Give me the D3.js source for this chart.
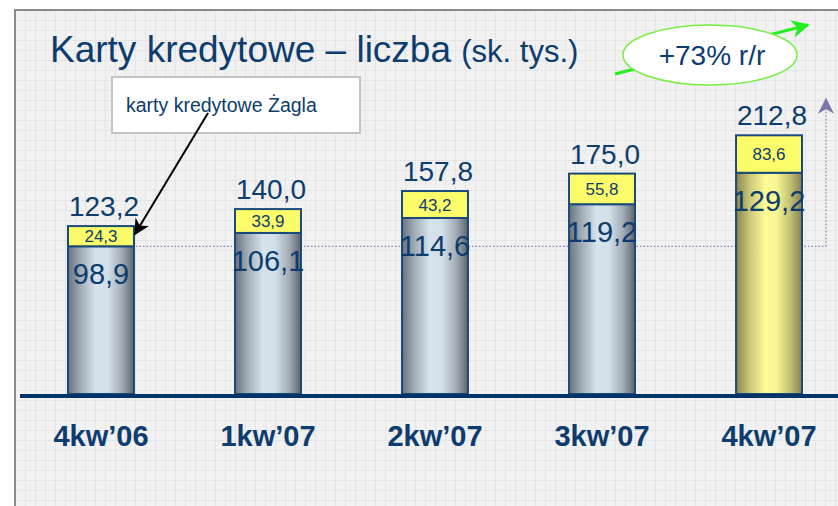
<!DOCTYPE html>
<html>
<head>
<meta charset="utf-8">
<script src="https://cdn.jsdelivr.net/npm/d3@7"></script>
<style>
  body { margin: 0; background: #fff; }
  svg { display: block; }
  text { font-family: "Liberation Sans", Arial, sans-serif; }
</style>
</head>
<body>
<div id="chart"></div>
<script>
// data
const quarters = ["4kw\u201906", "1kw\u201907", "2kw\u201907", "3kw\u201907", "4kw\u201907"];
const totals   = [123.2, 140.0, 157.8, 175.0, 212.8];
const zagla    = [24.3, 33.9, 43.2, 55.8, 83.6];
const own      = [98.9, 106.1, 114.6, 119.2, 129.2];
const fmt = d => d.toFixed(1).replace(".", ",");

const width = 838, height = 506;
const base_y = 394;
const navy = "#0d3c6e";

const svg = d3.select("#chart").append("svg")
    .attr("width", width).attr("height", height);

const defs = svg.append("defs");

// grid paper background
const pat = defs.append("pattern")
    .attr("id", "grid").attr("patternUnits", "userSpaceOnUse")
    .attr("x", 5).attr("y", 0).attr("width", 10).attr("height", 10);
pat.append("rect").attr("width", 10).attr("height", 10).attr("fill", "#f1f1f1");
pat.append("path").attr("d", "M0,0.5H10M0.5,0V10")
    .attr("stroke", "#e5e5e5").attr("stroke-width", 1);

function hGradient(id, stops){
    const g = defs.append("linearGradient").attr("id", id)
        .attr("x1", "0%").attr("x2", "100%").attr("y1", "0%").attr("y2", "0%");
    stops.forEach(s => g.append("stop").attr("offset", s[0]).attr("stop-color", s[1]));
}
hGradient("steel", [["0%", "#6a737d"], ["18%", "#9ea9b4"], ["42%", "#d6e3ed"], ["60%", "#d3e0ea"], ["82%", "#a3acb6"], ["100%", "#5c636c"]]);
hGradient("gold", [["0%", "#878548"], ["20%", "#c8c677"], ["45%", "#fdfd98"], ["62%", "#f6f692"], ["82%", "#c2c074"], ["100%", "#84834c"]]);

function arrowMarker(id, color, size){
    defs.append("marker").attr("id", id)
        .attr("viewBox", "0 0 10 10").attr("refX", 9).attr("refY", 5)
        .attr("markerWidth", size).attr("markerHeight", size)
        .attr("markerUnits", "userSpaceOnUse")
        .attr("orient", "auto")
        .append("path").attr("d", "M0,0L10,5L0,10L3,5Z").attr("fill", color);
}
arrowMarker("arrBlack", "#000", 16);
arrowMarker("arrGreen", "#22ee22", 18);
arrowMarker("arrPurple", "#7a76a8", 16);

// frame
svg.append("rect").attr("x", 14).attr("y", 9)
    .attr("width", width - 14).attr("height", height - 9)
    .attr("fill", "url(#grid)");
svg.append("path").attr("d", `M15,${height}V10H${width}`)
    .attr("fill", "none").attr("stroke", "#8a8a8a").attr("stroke-width", 2);

// scales
const x = d3.scaleBand().domain(quarters).range([68, 802])
    .paddingInner(0.605).paddingOuter(0);
const y = d3.scaleLinear().domain([-42.5, 257.5]).range([base_y, 90]);
const ySeg = d3.scaleSqrt().domain([0, 100]).range([0, 41]);

const rows = quarters.map((q, i) => ({q, total: totals[i], zagla: zagla[i], own: own[i], last: i === quarters.length - 1}));
rows.forEach(d => { d.top = y(d.total); d.split = d.top + ySeg(d.zagla); });

// dotted reference: level of first quarter up to the last
const refY = rows[0].split;
const refX = 826;
svg.append("line")
    .attr("x1", x(quarters[0]) + x.bandwidth() / 2).attr("x2", refX)
    .attr("y1", refY).attr("y2", refY)
    .attr("stroke", "#8784b4").attr("stroke-width", 1.2).attr("stroke-dasharray", "1.5,2");
svg.append("line")
    .attr("x1", refX).attr("x2", refX)
    .attr("y1", refY).attr("y2", rows[4].top - 36)
    .attr("stroke", "#8784b4").attr("stroke-width", 1.2).attr("stroke-dasharray", "1.5,2")
    .attr("marker-end", "url(#arrPurple)");

// bars
const bars = svg.append("g").attr("class", "bars")
    .selectAll("g").data(rows).join("g")
    .attr("transform", d => `translate(${x(d.q)},0)`);

bars.append("rect")
    .attr("y", d => d.split).attr("width", x.bandwidth())
    .attr("height", d => base_y - d.split)
    .attr("fill", d => d.last ? "url(#gold)" : "url(#steel)")
    .attr("stroke", "#1b4a7a").attr("stroke-width", 2);

bars.append("rect")
    .attr("y", d => d.top).attr("width", x.bandwidth())
    .attr("height", d => d.split - d.top)
    .attr("fill", "#ffff55").attr("fill-opacity", 0.85)
    .attr("stroke", "#1b4a7a").attr("stroke-width", 2);

bars.append("text")
    .attr("x", x.bandwidth() / 2).attr("y", d => (d.top + d.split) / 2)
    .attr("dy", "0.36em").attr("text-anchor", "middle")
    .attr("font-size", 17).attr("fill", navy)
    .text(d => fmt(d.zagla));

bars.append("text")
    .attr("x", x.bandwidth() / 2).attr("y", d => d.split + 38)
    .attr("text-anchor", "middle")
    .attr("font-size", 29).attr("fill", navy)
    .text(d => fmt(d.own));

bars.append("text")
    .attr("x", x.bandwidth() / 2 + 3).attr("y", d => d.top - 10)
    .attr("text-anchor", "middle")
    .attr("font-size", 28).attr("fill", navy)
    .text(d => fmt(d.total));

// baseline + category labels
svg.append("line").attr("x1", 20).attr("x2", width)
    .attr("y1", base_y + 2).attr("y2", base_y + 2)
    .attr("stroke", "#003366").attr("stroke-width", 4);

svg.append("g").selectAll("text").data(quarters).join("text")
    .attr("x", d => x(d) + x.bandwidth() / 2)
    .attr("y", 446)
    .attr("text-anchor", "middle")
    .attr("font-size", 29).attr("font-weight", "bold")
    .style("font-family", "'Liberation Sans Narrow', 'Arial Narrow', sans-serif")
    .attr("fill", navy)
    .text(d => d);

// title
const title = svg.append("text").attr("x", 50).attr("y", 62).attr("fill", navy);
title.append("tspan").attr("font-size", 37).text("Karty kredytowe \u2013 liczba ");
title.append("tspan").attr("font-size", 31).text("(sk. tys.)");

// callout for Zagla cards
svg.append("rect").attr("x", 112).attr("y", 77).attr("width", 248).attr("height", 56)
    .attr("fill", "#fff").attr("stroke", "#c4c4c4").attr("stroke-width", 2);
svg.append("text").attr("x", 126).attr("y", 112)
    .attr("font-size", 19.5).attr("fill", navy)
    .text("karty kredytowe \u017bagla");
svg.append("line")
    .attr("x1", 208).attr("y1", 113)
    .attr("x2", x(quarters[0]) + x.bandwidth() + 1).attr("y2", rows[0].top + 8)
    .attr("stroke", "#000").attr("stroke-width", 2)
    .attr("marker-end", "url(#arrBlack)");

// growth badge
svg.append("line").attr("x1", 615).attr("y1", 74).attr("x2", 808).attr("y2", 25)
    .attr("stroke", "#22ee22").attr("stroke-width", 3)
    .attr("marker-end", "url(#arrGreen)");
svg.append("ellipse").attr("cx", 710).attr("cy", 55).attr("rx", 87).attr("ry", 30)
    .attr("fill", "#fff").attr("stroke", "#77ee44").attr("stroke-width", 1.5);
svg.append("text").attr("x", 712).attr("y", 65)
    .attr("text-anchor", "middle").attr("font-size", 28).attr("fill", navy)
    .text("+73% r/r");
</script>
</body>
</html>
